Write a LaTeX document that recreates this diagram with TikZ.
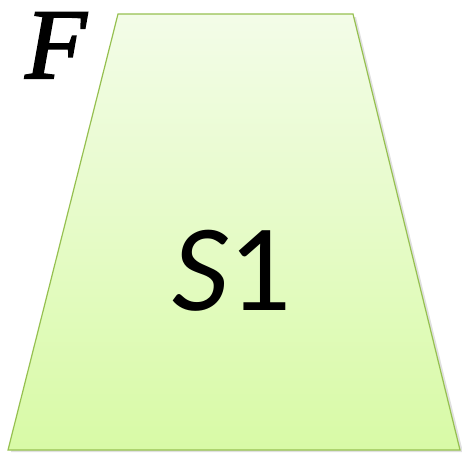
\documentclass[tikz,border=0pt]{standalone}
\usepackage{fontspec}
\setmainfont{Liberation Serif}
\newfontfamily\carl{Carlito}
\usetikzlibrary{calc}
\definecolor{topg}{RGB}{243,252,232}
\definecolor{botg}{RGB}{216,250,166}
\definecolor{edgeg}{RGB}{150,192,80}
\tikzset{trap/.style={draw=edgeg,line width=1.2pt,top color=topg,bottom color=botg}}
\begin{document}
\begin{tikzpicture}[x=1pt,y=-1pt]
\useasboundingbox (0,0) rectangle (462,453);
\coordinate (tl) at (118,14);
\coordinate (tr) at (353,14);
\coordinate (br) at (460,450);
\coordinate (bl) at (8,450);
\fill[black!12] ($(tl)+(3,3)$) -- ($(tr)+(3,3)$) -- ($(br)+(3,2)$) -- ($(bl)+(3,2)$) -- cycle;
\path[trap] (tl) -- (tr) -- (br) -- (bl) -- cycle;
\node[anchor=base,inner sep=0pt,font=\carl\fontsize{124}{124}\selectfont] (s) at (232,310) {\textit{S}1};
\node[anchor=base,inner sep=0pt,font=\fontsize{100}{100}\selectfont\itshape] (f) at (56,78) {\special{pdf:literal 2 Tr 2 w}F\special{pdf:literal 0 Tr}};
\end{tikzpicture}
\end{document}
